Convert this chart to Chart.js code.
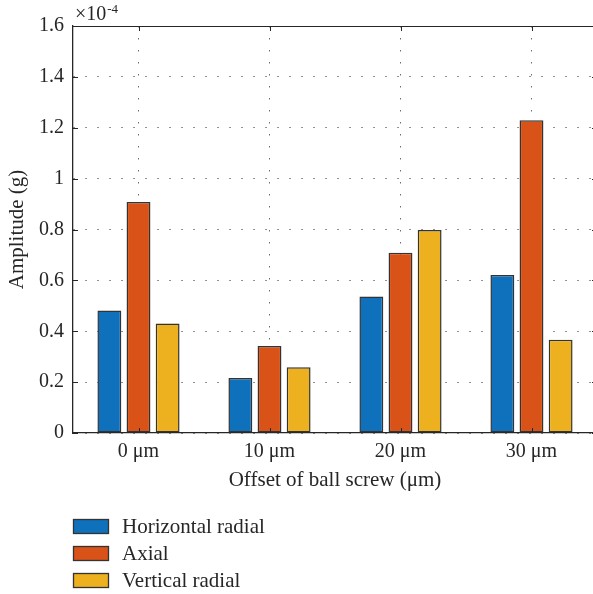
<!DOCTYPE html>
<html>
<head>
<meta charset="utf-8">
<script src="https://cdn.jsdelivr.net/npm/chart.js@4/dist/chart.umd.min.js"></script>
<style>
  html, body { margin: 0; padding: 0; background: #fff; overflow: hidden; }
  #wrap { width: 593px; height: 594px; overflow: hidden; }
  #c { display: block; }
</style>
</head>
<body>
<div id="wrap"><canvas id="c" width="600" height="594"></canvas></div>
<script>
// Vibration amplitude (×10^-4 g) per ball-screw offset
const categories = ['0 μm', '10 μm', '20 μm', '30 μm'];
const horizontalRadial = [0.482, 0.216, 0.537, 0.621];
const axial = [0.908, 0.342, 0.709, 1.229];
const verticalRadial = [0.43, 0.258, 0.798, 0.367];
const seriesNames = ['Horizontal radial', 'Axial', 'Vertical radial'];
const yTicks = [0, 0.2, 0.4, 0.6, 0.8, 1, 1.2, 1.4, 1.6];

const FONT = '"Liberation Serif", "Times New Roman", serif';
const INK = '#262626';
const colors = ['#0F71BC', '#D95319', '#EDB120'];

// Inward tick marks, box top edge, exponent label and legend
const decorations = {
  id: 'decorations',
  afterDraw(chart) {
    const { ctx, chartArea: a, scales: { x, y } } = chart;
    ctx.save();
    ctx.strokeStyle = INK;
    ctx.lineWidth = 1;
    ctx.beginPath();
    // top edge of the box
    ctx.moveTo(a.left, a.top + 0.5);
    ctx.lineTo(a.right, a.top + 0.5);
    // y ticks, left and right
    yTicks.forEach(v => {
      const py = Math.round(y.getPixelForValue(v)) + 0.5;
      ctx.moveTo(a.left, py); ctx.lineTo(a.left + 5, py);
      ctx.moveTo(a.right, py); ctx.lineTo(a.right - 5, py);
    });
    // x ticks, bottom and top
    categories.forEach((c, i) => {
      const px = Math.round(x.getPixelForValue(i)) + 0.5;
      ctx.moveTo(px, a.bottom); ctx.lineTo(px, a.bottom - 5);
      ctx.moveTo(px, a.top); ctx.lineTo(px, a.top + 5);
    });
    ctx.stroke();

    // exponent label
    ctx.fillStyle = INK;
    ctx.textBaseline = 'alphabetic';
    ctx.textAlign = 'left';
    ctx.font = '20px ' + FONT;
    ctx.fillText('×10', a.left + 2, 20);
    const w = ctx.measureText('×10').width;
    ctx.font = '13px ' + FONT;
    ctx.fillText('-4', a.left + 3 + w, 13);

    // legend
    ctx.font = '21px ' + FONT;
    ctx.textBaseline = 'middle';
    chart.data.datasets.forEach((ds, i) => {
      const top = 519 + i * 27;
      ctx.fillStyle = ds.backgroundColor;
      ctx.fillRect(73, top, 36, 15);
      ctx.strokeStyle = '#333';
      ctx.lineWidth = 1.3;
      ctx.strokeRect(73.5, top + 0.5, 35, 14);
      ctx.fillStyle = INK;
      ctx.fillText(ds.label, 122, top + 8);
    });
    ctx.restore();
  }
};

const seriesData = [horizontalRadial, axial, verticalRadial];

new Chart(document.getElementById('c'), {
  type: 'bar',
  data: {
    labels: categories,
    datasets: seriesNames.map((name, i) => ({
      label: name,
      data: seriesData[i],
      backgroundColor: colors[i],
      borderColor: '#333333',
      borderWidth: 1.5,
      borderSkipped: false,
      categoryPercentage: 0.667,
      barPercentage: 0.82
    }))
  },
  options: {
    responsive: false,
    animation: false,
    layout: { padding: { left: 0, right: 3, top: 26, bottom: 99 } },
    plugins: { legend: { display: false }, tooltip: { enabled: false } },
    scales: {
      x: {
        offset: true,
        grid: { offset: false, drawTicks: false, color: '#6e6e6e', lineWidth: 1 },
        border: { display: true, color: INK, width: 1.3, dash: [1.5, 10.5] },
        ticks: { color: INK, font: { family: FONT, size: 20 }, padding: 7 },
        title: {
          display: true, text: 'Offset of ball screw (μm)', color: INK,
          font: { family: FONT, size: 21 }, padding: { top: 0, bottom: 2 }
        },
        afterFit(scale) { scale.height = 62; }
      },
      y: {
        min: 0, max: 1.6,
        afterBuildTicks(scale) { scale.ticks = yTicks.map(v => ({ value: v })); },
        grid: { drawTicks: false, color: '#6e6e6e', lineWidth: 1 },
        border: { display: true, color: INK, width: 1.3, dash: [1.5, 10.5] },
        ticks: {
          color: INK, font: { family: FONT, size: 20 }, padding: 9,
          callback: v => String(Number(v.toFixed(1)))
        },
        title: {
          display: true, text: 'Amplitude (g)', color: INK,
          font: { family: FONT, size: 21 }, padding: { top: 5, bottom: 0 }
        },
        afterFit(scale) { scale.width = 73; }
      }
    }
  },
  plugins: [decorations]
});
</script>
</body>
</html>
